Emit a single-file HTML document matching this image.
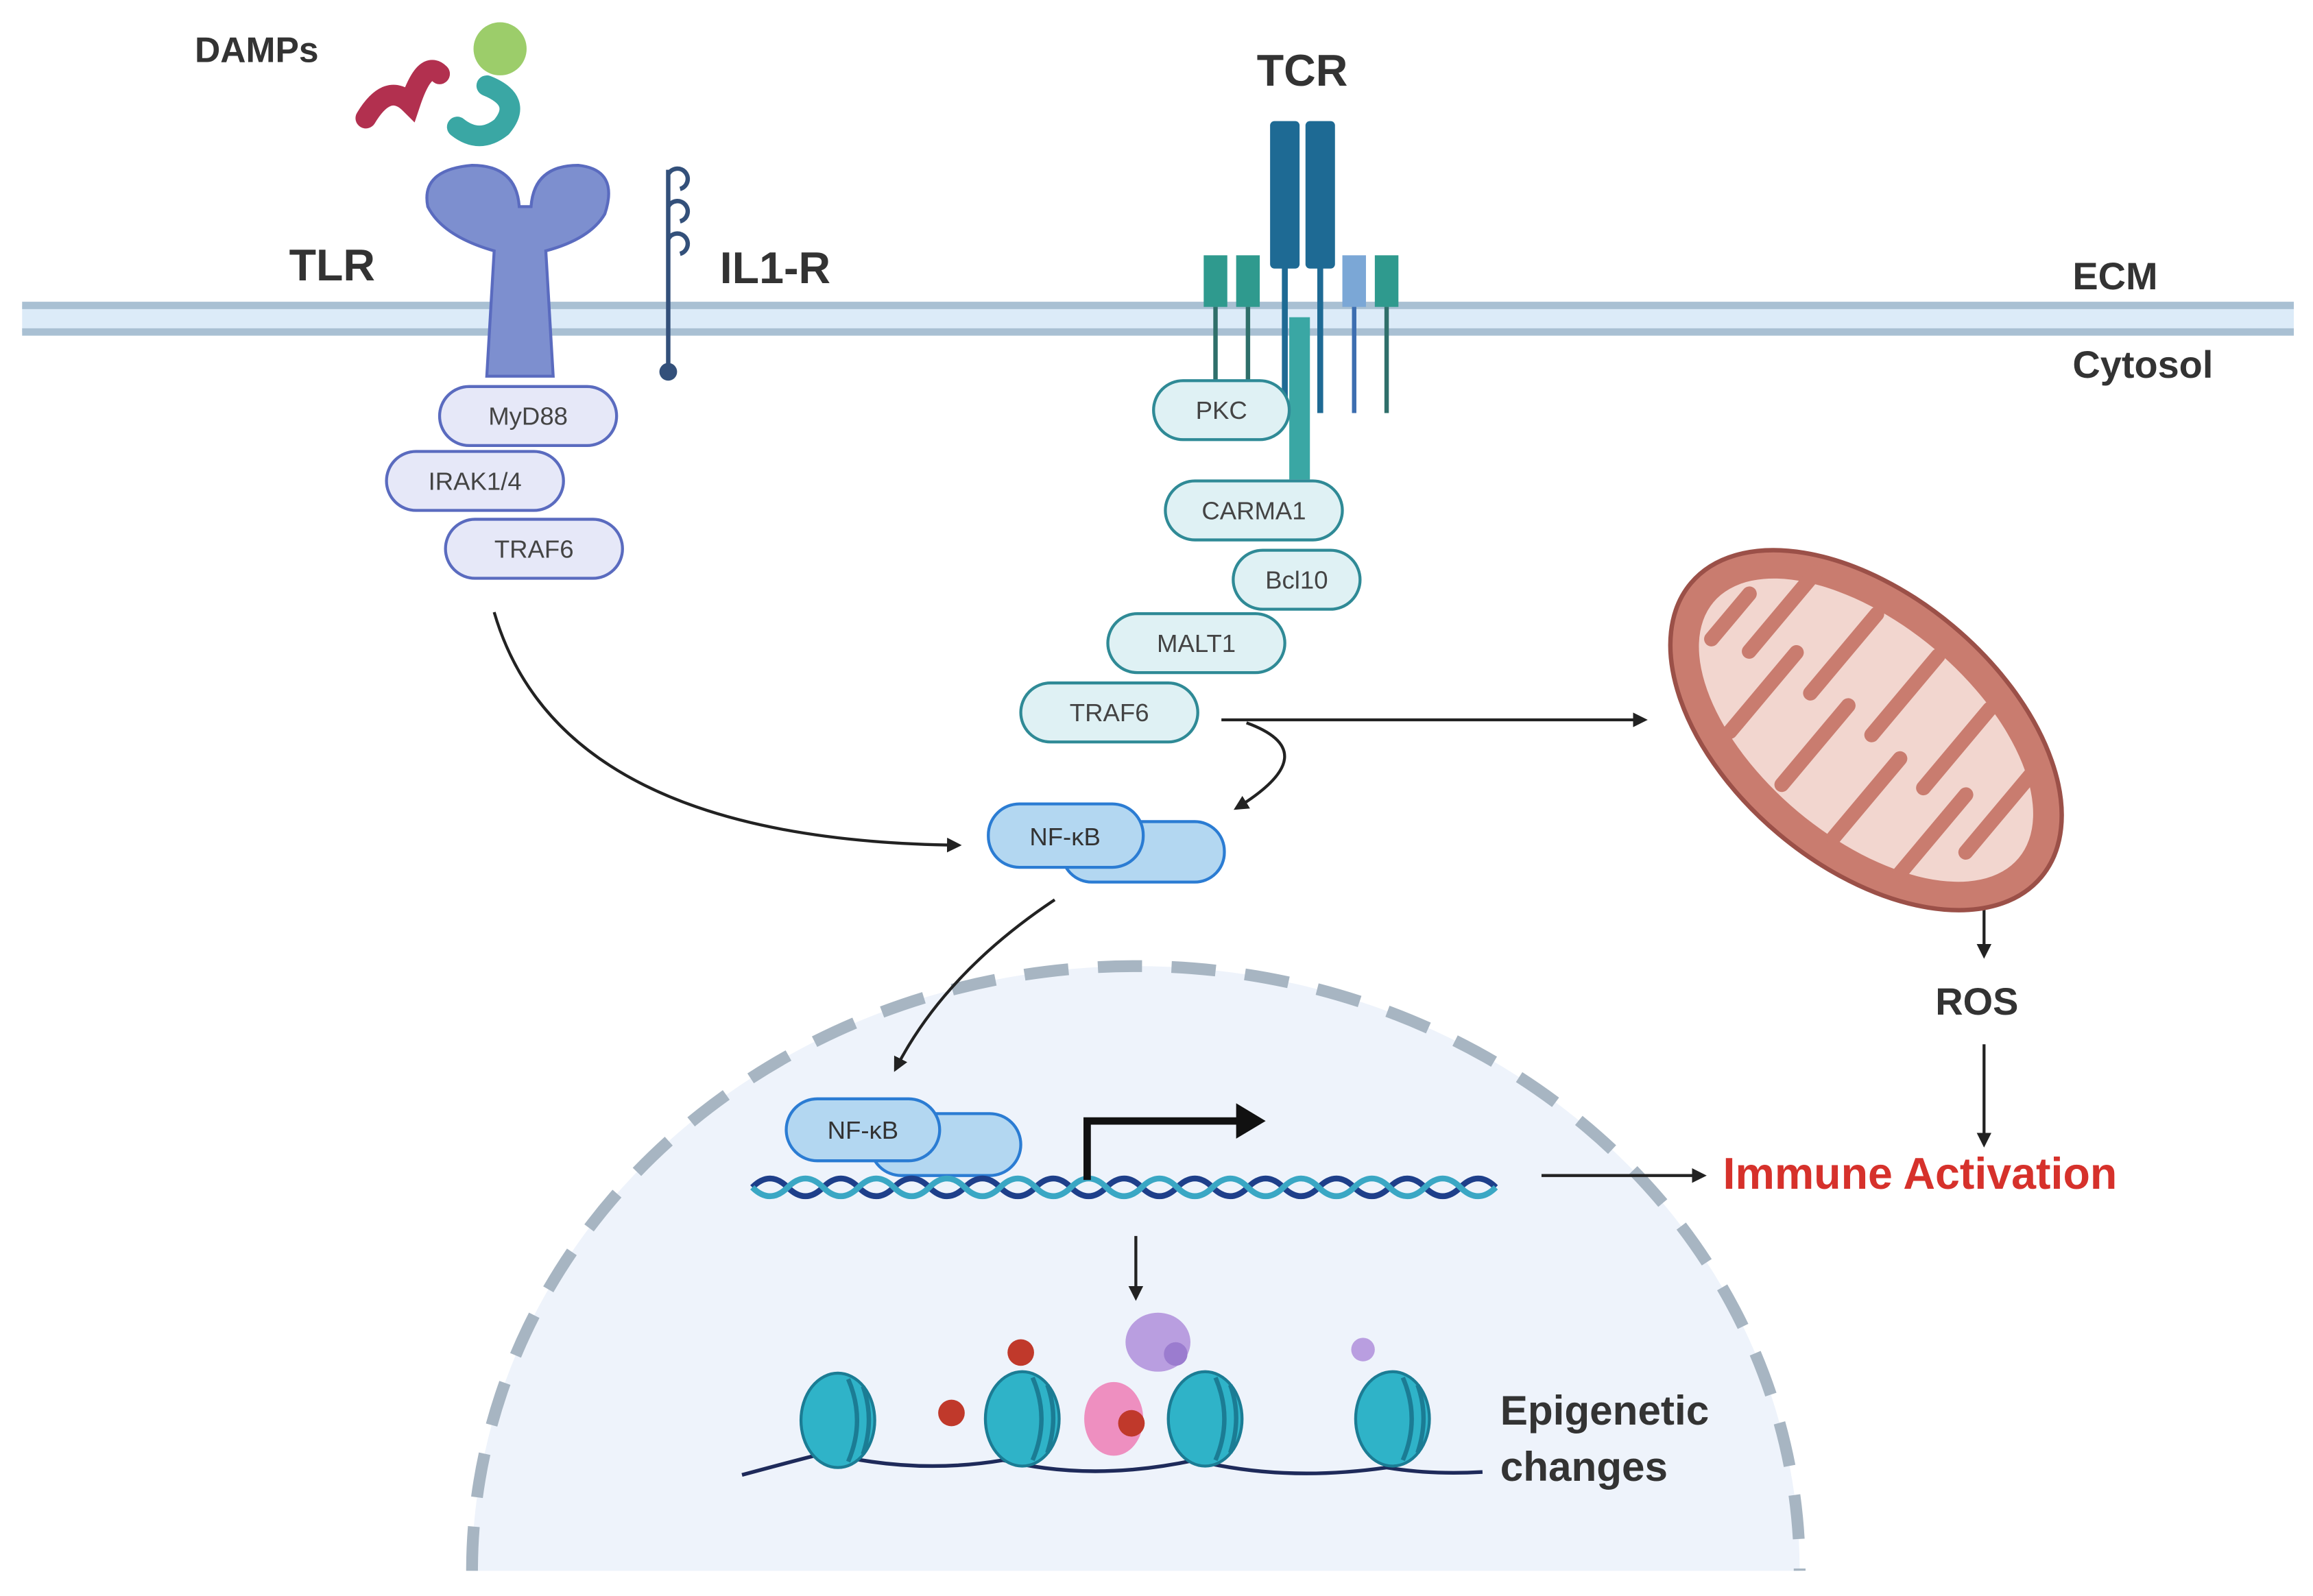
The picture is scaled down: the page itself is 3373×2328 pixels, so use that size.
<!DOCTYPE html>
<html><head><meta charset="utf-8"><style>
html,body{margin:0;padding:0;background:#fff}
svg{display:block}
text{font-family:"Liberation Sans",sans-serif}
</style></head><body>
<svg width="3373" height="2328" viewBox="0 0 1568 1082" xmlns="http://www.w3.org/2000/svg">
<defs>
<marker id="ah" markerWidth="10" markerHeight="10" refX="8" refY="5" orient="auto" markerUnits="userSpaceOnUse"><path d="M0,0 L10,5 L0,10 z" fill="#222"/></marker>
</defs>
<rect width="1568" height="1082" fill="#fff"/>
<!-- nucleus -->
<path d="M320,1065 A450,410 0 0 1 1220,1065 Z" fill="#eef3fb"/>
<path d="M320,1065 A450,410 0 0 1 1220,1065" fill="none" stroke="#a7b5c2" stroke-width="8" stroke-dasharray="30 20"/>
<!-- membrane -->
<rect x="15" y="207" width="1540" height="18" fill="#dcebf8"/>
<line x1="15" y1="207" x2="1555" y2="207" stroke="#a9c0d3" stroke-width="5"/>
<line x1="15" y1="225" x2="1555" y2="225" stroke="#a9c0d3" stroke-width="5"/>
<!-- DAMPs -->
<text x="132" y="42" font-size="24" font-weight="bold" fill="#333">DAMPs</text>
<path d="M248,80 q15,-25 30,-10 q10,-30 20,-20" stroke="#b2304f" stroke-width="14" fill="none" stroke-linecap="round"/>
<circle cx="339" cy="33" r="18" fill="#9ccd6a"/>
<path d="M330,58 q25,10 10,28 q-15,12 -30,0" stroke="#3aa7a4" stroke-width="14" fill="none" stroke-linecap="round"/>
<!-- TLR -->
<path d="M330,255 L335,170 Q300,160 290,140 Q285,115 320,112 Q350,112 352,140 L360,140 Q362,112 392,112 Q420,115 410,145 Q400,162 370,170 L375,255 Z" fill="#7d8fcf" stroke="#5a6bbf" stroke-width="2"/>
<text x="196" y="190" font-size="30" font-weight="bold" fill="#333">TLR</text>
<!-- IL1R -->
<line x1="453" y1="115" x2="453" y2="250" stroke="#33507a" stroke-width="3"/>
<circle cx="453" cy="252" r="6" fill="#33507a"/>
<path d="M453,118 a7,7 0 1 1 8,10 M453,140 a7,7 0 1 1 8,10 M453,162 a7,7 0 1 1 8,10" fill="none" stroke="#33507a" stroke-width="3"/>
<text x="488" y="192" font-size="30" font-weight="bold" fill="#333">IL1-R</text>
<!-- TLR pills -->
<g font-size="17" fill="#444" text-anchor="middle" stroke-width="2">
<rect x="298" y="262" width="120" height="40" rx="20" fill="#e6e8f8" stroke="#5a6bbf"/>
<text x="358" y="288">MyD88</text>
<rect x="262" y="306" width="120" height="40" rx="20" fill="#e6e8f8" stroke="#5a6bbf"/>
<text x="322" y="332">IRAK1/4</text>
<rect x="302" y="352" width="120" height="40" rx="20" fill="#e6e8f8" stroke="#5a6bbf"/>
<text x="362" y="378">TRAF6</text>
</g>
<!-- TCR -->
<text x="852" y="58" font-size="30" font-weight="bold" fill="#333">TCR</text>
<rect x="861" y="82" width="20" height="100" rx="3" fill="#1e6a94"/>
<rect x="885" y="82" width="20" height="100" rx="3" fill="#1e6a94"/>
<line x1="871" y1="180" x2="871" y2="280" stroke="#1e6a94" stroke-width="4"/>
<line x1="895" y1="180" x2="895" y2="280" stroke="#1e6a94" stroke-width="4"/>
<rect x="874" y="215" width="14" height="110" fill="#3aa7a4"/>
<rect x="816" y="173" width="16" height="35" fill="#2f9a8e"/><line x1="824" y1="208" x2="824" y2="260" stroke="#2f6f6a" stroke-width="3"/>
<rect x="838" y="173" width="16" height="35" fill="#2f9a8e"/><line x1="846" y1="208" x2="846" y2="260" stroke="#2f6f6a" stroke-width="3"/>
<rect x="910" y="173" width="16" height="35" fill="#7ba7d6"/><line x1="918" y1="208" x2="918" y2="280" stroke="#3d6eb0" stroke-width="3"/>
<rect x="932" y="173" width="16" height="35" fill="#2f9a8e"/><line x1="940" y1="208" x2="940" y2="280" stroke="#2f6f6a" stroke-width="3"/>
<g font-size="17" fill="#444" text-anchor="middle" stroke-width="2">
<rect x="782" y="258" width="92" height="40" rx="20" fill="#dff1f4" stroke="#2f8a96"/>
<text x="828" y="284">PKC</text>
<rect x="790" y="326" width="120" height="40" rx="20" fill="#dff1f4" stroke="#2f8a96"/>
<text x="850" y="352">CARMA1</text>
<rect x="836" y="373" width="86" height="40" rx="20" fill="#dff1f4" stroke="#2f8a96"/>
<text x="879" y="399">Bcl10</text>
<rect x="751" y="416" width="120" height="40" rx="20" fill="#dff1f4" stroke="#2f8a96"/>
<text x="811" y="442">MALT1</text>
<rect x="692" y="463" width="120" height="40" rx="20" fill="#dff1f4" stroke="#2f8a96"/>
<text x="752" y="489">TRAF6</text>
</g>
<text x="1405" y="196" font-size="26" font-weight="bold" fill="#333">ECM</text>
<text x="1405" y="256" font-size="26" font-weight="bold" fill="#333">Cytosol</text>
<!-- NF-kB -->
<rect x="720" y="557" width="110" height="41" rx="20" fill="#b3d7f1" stroke="#2b7cd3" stroke-width="2"/>
<rect x="670" y="545" width="105" height="43" rx="21" fill="#b3d7f1" stroke="#2b7cd3" stroke-width="2"/>
<text x="722" y="573" font-size="17" text-anchor="middle" fill="#333">NF-κB</text>
<!-- arrows -->
<g fill="none" stroke="#222" stroke-width="2" marker-end="url(#ah)">
<path d="M335,415 Q380,570 650,573"/>
<path d="M828,488 L1115,488"/>
<path d="M845,490 Q900,510 838,548"/>
<path d="M715,610 Q640,660 607,725"/>
<path d="M1345,605 L1345,648"/>
<path d="M1345,708 L1345,776"/>
<path d="M1045,797 L1155,797"/>
<path d="M770,838 L770,880"/>
</g>
<!-- mitochondrion -->
<g transform="translate(1265,495) rotate(40)">
<ellipse rx="155" ry="92" fill="#c97c6f" stroke="#9b5048" stroke-width="3"/>
<ellipse rx="135" ry="72" fill="#f2d6cf"/>
<path d="M-120,-20 l0,40 M-95,-60 l0,70 M-70,60 l0,-70 M-45,-65 l0,70 M-20,65 l0,-70 M5,-70 l0,70 M30,70 l0,-70 M55,-65 l0,70 M80,60 l0,-70 M105,-50 l0,70" stroke="#c97c6f" stroke-width="10" stroke-linecap="round"/>
</g>
<text x="1312" y="688" font-size="26" font-weight="bold" fill="#333">ROS</text>
<text x="1168" y="806" font-size="30" font-weight="bold" fill="#d6312b">Immune Activation</text>
<!-- nuclear NF-kB + DNA -->
<rect x="590" y="755" width="102" height="42" rx="21" fill="#b3d7f1" stroke="#2b7cd3" stroke-width="2"/>
<rect x="533" y="745" width="104" height="42" rx="21" fill="#b3d7f1" stroke="#2b7cd3" stroke-width="2"/>
<text x="585" y="772" font-size="17" text-anchor="middle" fill="#333">NF-κB</text>
<path d="M510,805 q12,-12 24,0 t24,0 t24,0 t24,0 t24,0 t24,0 t24,0 t24,0 t24,0 t24,0 t24,0 t24,0 t24,0 t24,0 t24,0 t24,0 t24,0 t24,0 t24,0 t24,0 t24,0" fill="none" stroke="#1e3f8a" stroke-width="4"/>
<path d="M510,805 q12,12 24,0 t24,0 t24,0 t24,0 t24,0 t24,0 t24,0 t24,0 t24,0 t24,0 t24,0 t24,0 t24,0 t24,0 t24,0 t24,0 t24,0 t24,0 t24,0 t24,0 t24,0" fill="none" stroke="#3aa7c4" stroke-width="4"/>
<path d="M737,800 L737,760 L840,760" fill="none" stroke="#111" stroke-width="5"/>
<path d="M838,748 L858,760 L838,772 z" fill="#111"/>
<!-- chromatin -->
<path d="M503,1000 Q540,990 560,985 Q620,1000 680,990 Q740,1005 810,990 Q870,1005 940,995 Q970,1000 1005,998" fill="none" stroke="#1e2a5a" stroke-width="2.5"/>
<g fill="#2fb3c8" stroke="#1b7c94" stroke-width="2">
<ellipse cx="568" cy="963" rx="25" ry="32"/>
<ellipse cx="693" cy="962" rx="25" ry="32"/>
<ellipse cx="817" cy="962" rx="25" ry="32"/>
<ellipse cx="944" cy="962" rx="25" ry="32"/>
</g>
<g fill="none" stroke="#1b7c94" stroke-width="3">
<path d="M575,935 q12,28 0,56 M585,940 q8,22 0,46"/>
<path d="M700,934 q12,28 0,56 M710,939 q8,22 0,46"/>
<path d="M824,934 q12,28 0,56 M834,939 q8,22 0,46"/>
<path d="M951,934 q12,28 0,56 M961,939 q8,22 0,46"/>
</g>
<ellipse cx="755" cy="962" rx="20" ry="25" fill="#ee8fc0"/>
<ellipse cx="785" cy="910" rx="22" ry="20" fill="#b99ee0"/>
<g fill="#c0392b"><circle cx="692" cy="917" r="9"/><circle cx="645" cy="958" r="9"/><circle cx="767" cy="965" r="9"/></g>
<circle cx="797" cy="918" r="8" fill="#9b7ccf"/><circle cx="924" cy="915" r="8" fill="#b99ee0"/>
<text x="1017" y="966" font-size="28" font-weight="bold" fill="#333">Epigenetic</text>
<text x="1017" y="1004" font-size="28" font-weight="bold" fill="#333">changes</text>
</svg>
</body></html>
